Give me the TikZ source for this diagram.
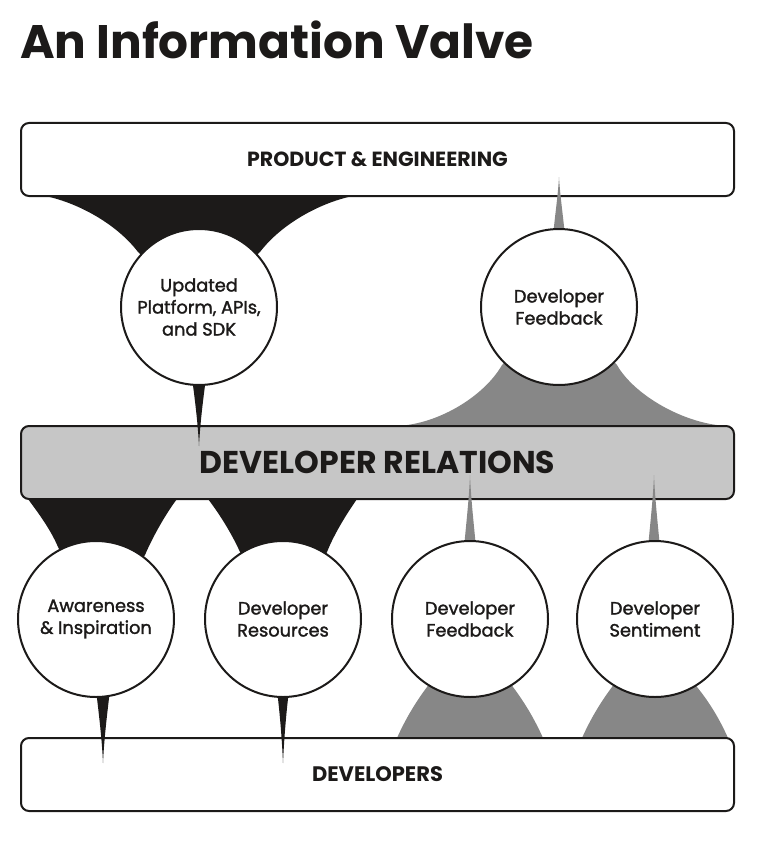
\documentclass[tikz,border=0pt]{standalone}
\usepackage{fontspec}
\setmainfont{Poppins}
\definecolor{ink}{HTML}{1C1A19}
\definecolor{midgray}{HTML}{C6C6C6}
\definecolor{flow}{HTML}{878787}
\begin{document}
\begin{tikzpicture}[x=1pt,y=-1pt,
  box/.style={draw=ink, rounded corners=8pt, line width=2pt, minimum width=713pt, minimum height=73pt, inner sep=0pt, text=ink},
  bub/.style={circle, draw=ink, fill=white, line width=2pt, minimum size=156pt, inner sep=0pt, align=center, text=ink, font=\fontsize{17.8}{22}\selectfont\addfontfeatures{FakeBold=1.6}},
  blk/.style={fill=ink, draw=none},
  gry/.style={fill=flow, draw=none}]
\useasboundingbox (0,0) rectangle (778,848);
% title
\node[anchor=base west, inner sep=0pt, text=ink, font=\fontsize{47}{50}\selectfont\bfseries] (title) at (20,59) {An Information Valve};
% circle centres
\coordinate (p1) at (199,307);
\coordinate (p2) at (559,307);
\coordinate (p3) at (96,619);
\coordinate (p4) at (283,619);
\coordinate (p5) at (470,619);
\coordinate (p6) at (655,619);
% funnels (under boxes)
\fill[blk] (45,196) .. controls (75,202) and (115,222) .. (138,252) -- (p1) -- (260,252) .. controls (283,222) and (323,202) .. (353,196) -- cycle;
\fill[gry] (397,426) .. controls (440,424) and (485,395) .. (502,365) -- (p2) -- (617,365) .. controls (634,395) and (684,424) .. (727,426) -- cycle;
\fill[blk] (28,499) .. controls (36,510) and (50,528) .. (58,547) -- (p3) -- (145,555) .. controls (153,536) and (167,512) .. (177,499) -- cycle;
\fill[blk] (208,499) .. controls (218,512) and (231,532) .. (240,552) -- (p4) -- (327,552) .. controls (335,532) and (348,512) .. (357,499) -- cycle;
\fill[gry] (397,738) .. controls (405,720) and (415,703) .. (427,687) -- (p5) -- (513,687) .. controls (525,703) and (535,720) .. (543,738) -- cycle;
\fill[gry] (582,738) .. controls (590,720) and (600,703) .. (612,687) -- (p6) -- (697,687) .. controls (710,703) and (720,720) .. (728,738) -- cycle;
% boxes
\node[box, fill=white, font=\fontsize{20.5}{22}\selectfont\bfseries] (pe) at (377.5,159.5) {PRODUCT \& ENGINEERING};
\node[box, fill=midgray, font=\fontsize{31.5}{32}\selectfont\bfseries] (dr) at (377.5,462.5) {DEVELOPER RELATIONS};
\node[box, fill=white, font=\fontsize{21}{22}\selectfont\bfseries] (dev) at (377.5,774.5) {DEVELOPERS};
% spikes
\coordinate (t1) at (199,446);
\coordinate (t2) at (559,177);
\coordinate (t3) at (103,763);
\coordinate (t4) at (283,763);
\coordinate (t5) at (470,475);
\coordinate (t6) at (654,475);
\fill[blk] (192,378) .. controls (195,400) and (198,425) .. (t1) .. controls (200,425) and (203,400) .. (206,378) -- cycle;
\fill[gry] (553,236) .. controls (555,215) and (558,195) .. (t2) .. controls (560,195) and (563,215) .. (565,236) -- cycle;
\fill[blk] (96,690) .. controls (99,715) and (102,740) .. (t3) .. controls (104,740) and (107,715) .. (110,690) -- cycle;
\fill[blk] (277,690) .. controls (280,715) and (282,740) .. (t4) .. controls (284,740) and (286,715) .. (289,690) -- cycle;
\fill[gry] (464,548) .. controls (466,525) and (469,500) .. (t5) .. controls (471,500) and (474,525) .. (476,548) -- cycle;
\fill[gry] (648,548) .. controls (650,525) and (653,500) .. (t6) .. controls (655,500) and (658,525) .. (660,548) -- cycle;
% circles
\node[bub] (c1) at (p1) {Updated\\Platform, APIs,\\and SDK};
\node[bub] (c2) at (p2) {Developer\\Feedback};
\node[bub] (c3) at (p3) {Awareness\\\& Inspiration};
\node[bub] (c4) at (p4) {Developer\\Resources};
\node[bub] (c5) at (p5) {Developer\\Feedback};
\node[bub] (c6) at (p6) {Developer\\Sentiment};
\end{tikzpicture}
\end{document}
